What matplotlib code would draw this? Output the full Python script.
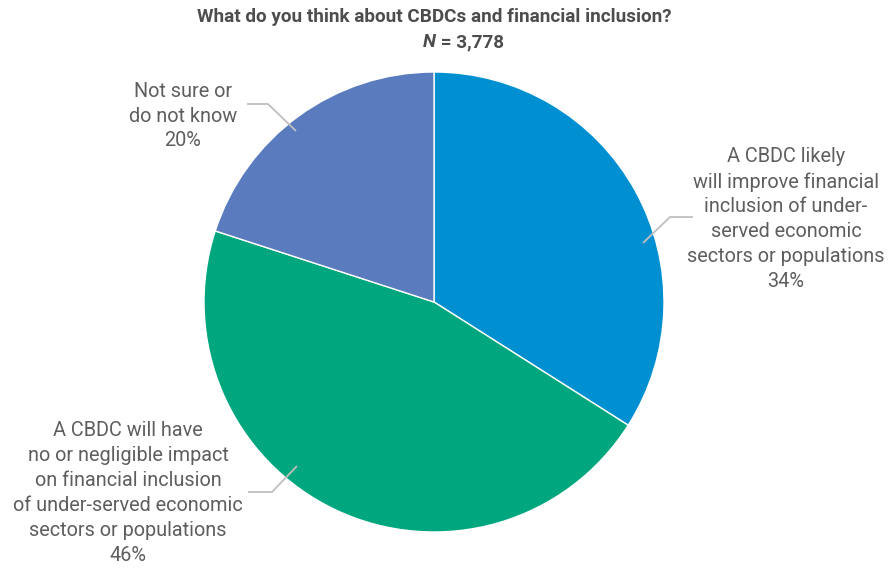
import numpy as np
import matplotlib.pyplot as plt

categories = [
    "A CBDC likely\nwill improve financial\ninclusion of under-\nserved economic\nsectors or populations",
    "A CBDC will have\nno or negligible impact\non financial inclusion\nof under-served economic\nsectors or populations",
    "Not sure or\ndo not know",
]
shares = [34, 46, 20]
colors = ["#0090d1", "#00a67e", "#5a7bbe"]

W, H = 889, 571


def py(y):
    # pixel rows from the top -> axis units from the bottom
    return H - y


def main():
    plt.rcParams['font.family'] = ['Roboto', 'DejaVu Sans']
    fig = plt.figure(figsize=(W / 100, H / 100), dpi=100)
    ax = fig.add_axes([0, 0, 1, 1])

    ax.pie(shares, colors=colors, startangle=90, counterclock=False,
           center=(434, py(302)), radius=230,
           wedgeprops=dict(edgecolor='white', linewidth=1))
    ax.set_xlim(0, W)
    ax.set_ylim(0, H)
    ax.set_aspect('equal')
    ax.axis('off')

    txt = '#5e5e5e'
    # label block centres and leader paths (pixels)
    label_pos = [(786, 219), (128, 493), (183, 116)]
    leaders = [
        [(693, 217), (670, 217), (643, 243)],
        [(248, 492), (272, 492), (297, 466)],
        [(247, 104), (268, 104), (296, 131)],
    ]
    for cat, val, (lx, ly), path in zip(categories, shares, label_pos, leaders):
        ax.text(lx, py(ly), f"{cat}\n{val}%", ha='center', va='center',
                fontsize=14.3, color=txt, linespacing=1.39)
        xs = [p[0] for p in path]
        ys = [py(p[1]) for p in path]
        ax.plot(xs, ys, color='#bfbfbf', lw=1.3, solid_capstyle='butt')

    title_kw = dict(va='center', fontsize=13.6, fontweight='bold', color='#4d4d4d')
    ax.text(434, py(17), "What do you think about CBDCs and financial inclusion?",
            ha='center', **title_kw)
    ax.text(436, py(42), "N", ha='right', fontstyle='italic', **title_kw)
    ax.text(436, py(42), " = 3,778", ha='left', **title_kw)

    fig.savefig('out.png', dpi=100)


if __name__ == "__main__":
    main()
